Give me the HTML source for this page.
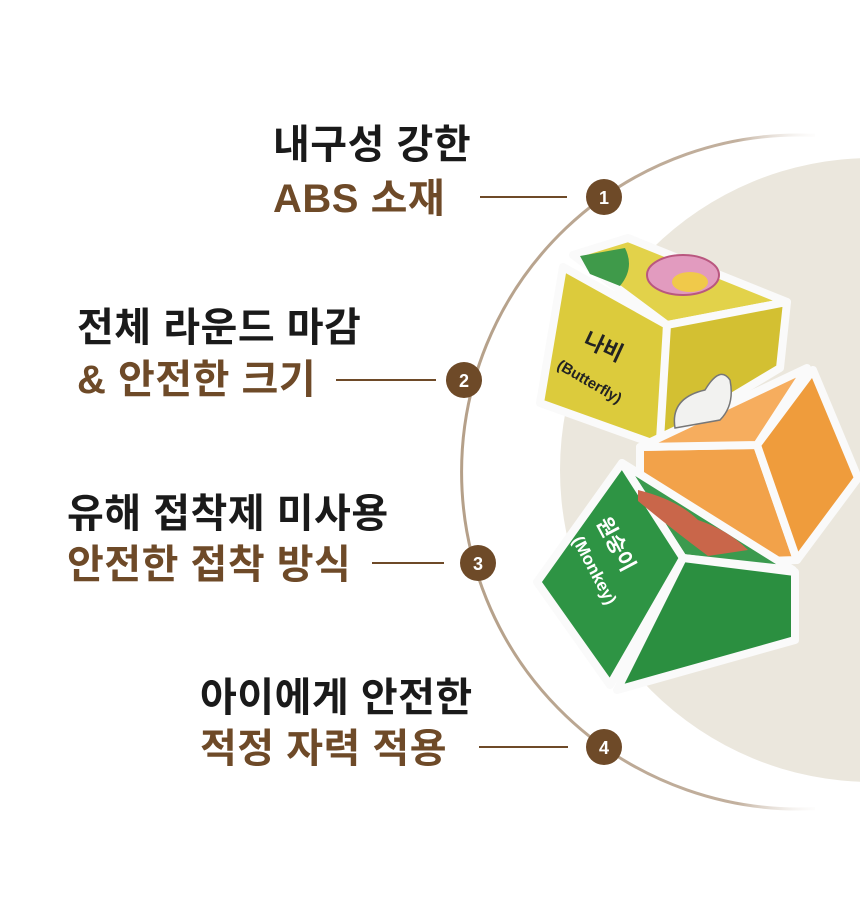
<!DOCTYPE html>
<html><head><meta charset="utf-8"><style>
body{margin:0;width:860px;height:920px;background:#fff;overflow:hidden;position:relative;font-family:"Liberation Sans","Noto Sans CJK KR",sans-serif}
.t{position:absolute;font-size:40px;font-weight:bold;line-height:52px;white-space:nowrap;letter-spacing:0.5px}
.k{color:#1a1a1a}.b{color:#6e4a28}
svg{position:absolute;left:0;top:0}
</style></head><body>
<svg width="860" height="920" viewBox="0 0 860 920">
<defs>
<linearGradient id="ag" gradientUnits="userSpaceOnUse" x1="460" y1="0" x2="830" y2="0">
<stop offset="0" stop-color="#b5a089"/><stop offset="0.75" stop-color="#c2b09e"/><stop offset="1" stop-color="#fff" stop-opacity="0"/>
</linearGradient>
</defs>
<circle cx="872" cy="470" r="312" fill="#ebe7dd"/>
<path d="M815 135.4 A337 337 0 1 0 815 808.6" fill="none" stroke="url(#ag)" stroke-width="3"/>
<g stroke="#6e4a28" stroke-width="2">
<line x1="480" y1="197" x2="567" y2="197"/>
<line x1="336" y1="380" x2="436" y2="380"/>
<line x1="372" y1="563" x2="444" y2="563"/>
<line x1="479" y1="747" x2="568" y2="747"/>
</g>
<g fill="#6e4a28"><circle cx="604" cy="197" r="18"/><circle cx="464" cy="380" r="18"/><circle cx="478" cy="563" r="18"/><circle cx="604" cy="747" r="18"/></g>
<g fill="#fff" font-size="18" font-weight="bold" text-anchor="middle" font-family="Liberation Sans,sans-serif">
<text x="604" y="204">1</text><text x="464" y="387">2</text><text x="478" y="570">3</text><text x="604" y="754">4</text></g>
<g stroke="#fafafa" stroke-width="8" stroke-linejoin="round">
<polygon points="573,255 628,238 787,302 667,325" fill="#e2d24a"/>
<polygon points="563,267 667,325 663,447 540,403" fill="#dccb3c"/>
<polygon points="667,325 787,302 780,368 660,440" fill="#d3c032"/>
<polygon points="640,447 757,445 797,560 640,565" fill="#f2a24a"/>
<polygon points="757,445 813,370 858,478 797,560" fill="#ef9c3c"/>
<polygon points="640,447 807,368 757,445" fill="#f6ad5e"/>
<polygon points="622,463 793,570 683,558" fill="#3b9a4e"/>
<polygon points="622,463 683,558 610,685 537,582" fill="#2e9444"/>
<polygon points="683,558 795,572 795,640 617,690" fill="#2b8f40"/>
</g>
<path d="M580 256 l45 -8 q10 20 -5 38 l-30 -12 z" fill="#3f9a4a"/>
<ellipse cx="683" cy="275" rx="36" ry="20" fill="#e29bbf" stroke="#b9577f" stroke-width="2"/>
<ellipse cx="690" cy="282" rx="18" ry="10" fill="#f0c94a"/>
<path d="M675 428 q-5 -30 30 -38 q15 -25 25 -10 q5 25 -10 40 z" fill="#f2f2f0" stroke="#777" stroke-width="1.5"/>
<path d="M638 490 q40 10 60 30 q30 10 50 30 l-40 6 q-40 -30 -70 -55 z" fill="#c9664a"/>
<text transform="translate(582,345) rotate(25)" font-size="22" font-weight="bold" fill="#222" font-family="Liberation Sans,Noto Sans CJK KR,sans-serif">나비</text>
<text transform="translate(556,368) rotate(30)" font-size="15" font-weight="bold" fill="#222" font-family="Liberation Sans,sans-serif">(Butterfly)</text>
<text transform="translate(596,522) rotate(62)" font-size="21" font-weight="bold" fill="#fff" font-family="Liberation Sans,Noto Sans CJK KR,sans-serif">원숭이</text>
<text transform="translate(572,540) rotate(62)" font-size="17" font-weight="bold" fill="#fff" font-family="Liberation Sans,sans-serif">(Monkey)</text>
</svg>
<div class="t k" style="left:273px;top:119px">내구성 강한</div>
<div class="t b" style="left:273px;top:173px">ABS 소재</div>
<div class="t k" style="left:77px;top:302px">전체 라운드 마감</div>
<div class="t b" style="left:77px;top:354px">&amp; 안전한 크기</div>
<div class="t k" style="left:67px;top:488px">유해 접착제 미사용</div>
<div class="t b" style="left:67px;top:539px">안전한 접착 방식</div>
<div class="t k" style="left:200px;top:672px">아이에게 안전한</div>
<div class="t b" style="left:200px;top:723px">적정 자력 적용</div>
</body></html>
